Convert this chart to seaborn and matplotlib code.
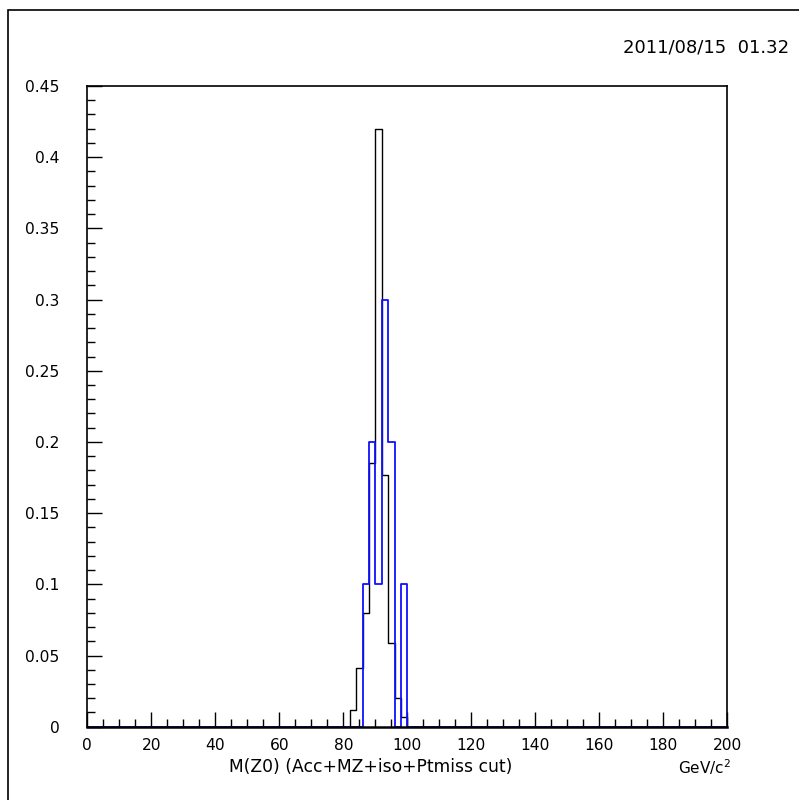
import numpy as np
import pandas as pd
import seaborn as sns
import matplotlib
matplotlib.use("Agg")
import matplotlib.pyplot as plt
from matplotlib.ticker import MultipleLocator
from matplotlib.patches import Rectangle

# bin edges of the histogram (100 bins, 2 GeV wide)
bin_edges = list(range(0, 202, 2))
# bin centres of the non-empty bins
bin_centers = [83, 85, 87, 89, 91, 93, 95, 97, 99]
# black histogram
black_vals = [0.012, 0.041, 0.080, 0.185, 0.420, 0.177, 0.059, 0.020, 0.0066]
# blue histogram
blue_vals = [0.0, 0.0, 0.1, 0.2, 0.1, 0.3, 0.2, 0.0, 0.1]

xticks = [0, 20, 40, 60, 80, 100, 120, 140, 160, 180, 200]
yticks = [0, 0.05, 0.1, 0.15, 0.2, 0.25, 0.3, 0.35, 0.4, 0.45]
ytick_labels = ["0", "0.05", "0.1", "0.15", "0.2", "0.25", "0.3", "0.35", "0.4", "0.45"]

sns.set_style("white")
plt.rcParams['font.family'] = ['DejaVu Sans']
plt.rcParams['text.color'] = 'black'
plt.rcParams['xtick.color'] = 'black'
plt.rcParams['ytick.color'] = 'black'

df = pd.DataFrame({"m": bin_centers, "black": black_vals, "blue": blue_vals})

fig = plt.figure(figsize=(7.99, 8.0), dpi=100)
ax = fig.add_axes([0.1093, 0.0916, 0.8010, 0.8009])

sns.histplot(data=df, x="m", weights="black", bins=bin_edges, element="step",
             fill=False, color="black", linewidth=1.0, ax=ax)
sns.histplot(data=df, x="m", weights="blue", bins=bin_edges, element="step",
             fill=False, color="#1010ff", linewidth=1.3, ax=ax)

ax.set_xlim(0, 200)
ax.set_ylim(0, 0.45)
ax.set_xlabel("")
ax.set_ylabel("")

ax.set_xticks(xticks)
ax.set_xticklabels([str(t) for t in xticks])
ax.set_yticks(yticks)
ax.set_yticklabels(ytick_labels)
ax.xaxis.set_minor_locator(MultipleLocator(5))
ax.yaxis.set_minor_locator(MultipleLocator(0.01))
ax.tick_params(axis="both", which="both", bottom=True, left=True, top=False,
               right=False, direction="in", color="black", width=1,
               labelcolor="black")
ax.tick_params(axis="both", which="major", length=11, labelsize=11.2)
ax.tick_params(axis="both", which="minor", length=6)
ax.tick_params(axis="x", which="major", pad=8)
ax.tick_params(axis="y", which="major", pad=20)

for s in ax.spines.values():
    s.set_visible(True)
    s.set_color("black")
    s.set_linewidth(1.2)
    s.set_zorder(5)
# keep the baseline black where the histograms run along zero
ax.spines["bottom"].set_linewidth(1.8)

# axis titles
fig.text(371 / 799, 1 - 767 / 800, "M(Z0) (Acc+MZ+iso+Ptmiss cut)",
         ha="center", va="center", fontsize=12.3)
fig.text(704 / 799, 1 - 767 / 800, r"GeV/c$^2$", ha="center", va="center",
         fontsize=11)

# date stamp
fig.text(789 / 799, 1 - 47 / 800, "2011/08/15  01.32", ha="right",
         va="center", fontsize=13)

# outer frame
fig.patches.append(Rectangle((8 / 799, -0.1), 1.2, 1 - 10 / 800 + 0.1,
                             transform=fig.transFigure, fill=False,
                             edgecolor="black", linewidth=1.2))

plt.savefig("out.png", dpi=100)
